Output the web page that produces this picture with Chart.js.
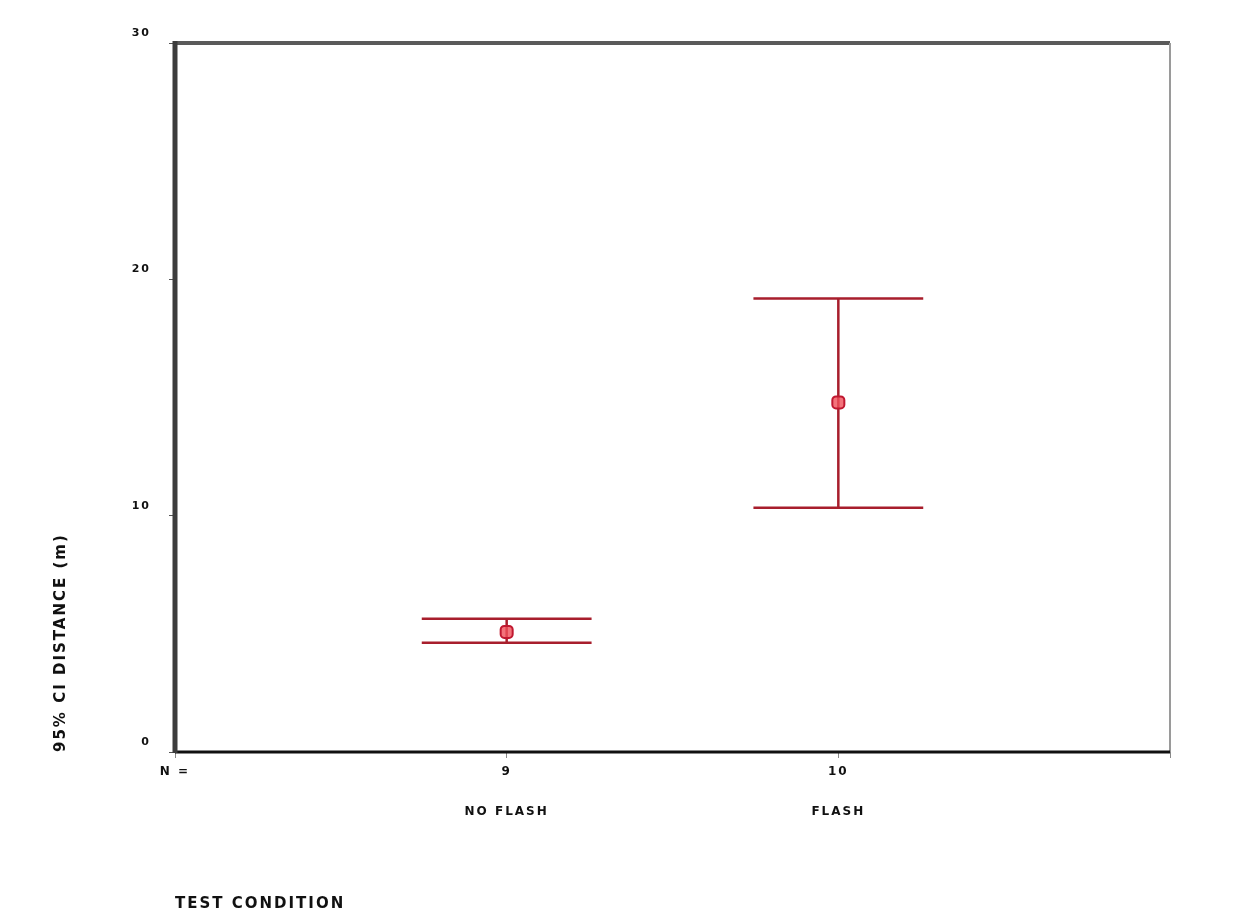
<!DOCTYPE html>
<html>
<head>
<meta charset="utf-8">
<script src="https://cdn.jsdelivr.net/npm/chart.js@4.4.1/dist/chart.umd.min.js"></script>
<style>
  html, body { margin: 0; padding: 0; background: #fff; }
  #wrap { width: 1236px; height: 913px; }
</style>
</head>
<body>
<div id="wrap"><canvas id="myChart" width="1236" height="913"></canvas></div>
<script>
// test conditions and group sizes
var categories = ['NO FLASH', 'FLASH'];
var counts = ['9', '10'];
var positions = [1, 2];

// mean distance and 95% CI bounds (m)
var means = [5.08, 14.79];
var lower = [4.62, 10.34];
var upper = [5.64, 19.19];

var yTicks = [0, 10, 20, 30];

var capHalf = 0.256; // half width of the caps, in x units
var red = '#a81e2c';

var points = [];
for (var i = 0; i < categories.length; i++) {
    points.push({ x: positions[i], y: means[i] });
}

// draws the CI whiskers through the chart scales
var errorBars = {
    id: 'errorBars',
    beforeDatasetsDraw: function (chart) {
        var ctx = chart.ctx;
        var xs = chart.scales.x;
        var ys = chart.scales.y;
        ctx.save();
        ctx.strokeStyle = red;
        ctx.lineWidth = 2.5;
        for (var i = 0; i < categories.length; i++) {
            var xc = xs.getPixelForValue(positions[i]);
            var xl = xs.getPixelForValue(positions[i] - capHalf);
            var xr = xs.getPixelForValue(positions[i] + capHalf);
            var yl = ys.getPixelForValue(lower[i]);
            var yu = ys.getPixelForValue(upper[i]);
            ctx.beginPath();
            ctx.moveTo(xc, yu); ctx.lineTo(xc, yl);
            ctx.moveTo(xl, yu); ctx.lineTo(xr, yu);
            ctx.moveTo(xl, yl); ctx.lineTo(xr, yl);
            ctx.stroke();
        }
        ctx.restore();
    }
};

// plot frame like the original: thick left, grey top, light right
var frame = {
    id: 'frame',
    beforeDraw: function (chart) {
        chart.ctx.letterSpacing = '2px';
    },
    afterDraw: function (chart) {
        var a = chart.chartArea;
        var ctx = chart.ctx;
        ctx.save();
        ctx.lineWidth = 4;
        ctx.strokeStyle = '#5a5a5a';
        ctx.beginPath(); ctx.moveTo(a.left, a.top); ctx.lineTo(a.right, a.top); ctx.stroke();
        ctx.lineWidth = 2;
        ctx.strokeStyle = '#9a9a9a';
        ctx.beginPath(); ctx.moveTo(a.right, a.top); ctx.lineTo(a.right, a.bottom); ctx.stroke();
        ctx.lineWidth = 3;
        ctx.strokeStyle = '#111';
        ctx.beginPath(); ctx.moveTo(a.left, a.bottom); ctx.lineTo(a.right, a.bottom); ctx.stroke();
        ctx.lineWidth = 5;
        ctx.strokeStyle = '#3c3c3c';
        ctx.beginPath(); ctx.moveTo(a.left, a.top - 2); ctx.lineTo(a.left, a.bottom + 1); ctx.stroke();
        ctx.restore();
    }
};

var font = 'DejaVu Sans';

var myChart = new Chart(document.getElementById('myChart'), {
    type: 'scatter',
    data: {
        datasets: [{
            data: points,
            pointStyle: 'rectRounded',
            pointRadius: 7,
            pointBackgroundColor: 'rgba(240,80,90,0.8)',
            pointBorderColor: '#c01830',
            pointBorderWidth: 2
        }]
    },
    plugins: [errorBars, frame],
    options: {
        responsive: false,
        animation: false,
        layout: { padding: { left: 0, right: 66, top: 43, bottom: 0 } },
        plugins: {
            legend: { display: false },
            tooltip: { enabled: false }
        },
        scales: {
            x: {
                type: 'linear',
                min: 0,
                max: 3,
                afterFit: function (scale) { scale.height = 161; },
                afterBuildTicks: function (scale) {
                    scale.ticks = [0, 1, 2, 3].map(function (v) { return { value: v }; });
                },
                grid: {
                    drawOnChartArea: false,
                    drawTicks: true,
                    tickLength: 6,
                    color: '#888'
                },
                border: { display: false },
                ticks: {
                    padding: 4,
                    color: '#111',
                    font: { family: font, size: 12, weight: 'bold', lineHeight: 1.67 },
                    callback: function (value) {
                        if (value === 0) return 'N =';
                        var idx = positions.indexOf(value);
                        if (idx < 0) return '';
                        return [counts[idx], '', categories[idx]];
                    }
                },
                title: {
                    display: true,
                    text: 'TEST CONDITION',
                    align: 'start',
                    color: '#111',
                    font: { family: font, size: 15, weight: 'bold' },
                    padding: { top: 57, bottom: 0 }
                }
            },
            y: {
                type: 'linear',
                min: 0,
                max: 30,
                afterFit: function (scale) { scale.width = 175; },
                afterBuildTicks: function (scale) {
                    scale.ticks = yTicks.map(function (v) { return { value: v }; });
                },
                grid: {
                    drawOnChartArea: false,
                    drawTicks: true,
                    tickLength: 6,
                    color: '#555'
                },
                border: { display: false },
                ticks: {
                    padding: 18,
                    labelOffset: -10,
                    color: '#111',
                    font: { family: font, size: 11, weight: 'bold' }
                },
                title: {
                    display: true,
                    text: '95% CI DISTANCE (m)',
                    align: 'start',
                    color: '#111',
                    font: { family: font, size: 15, weight: 'bold' },
                    padding: { top: 52, bottom: 0 }
                }
            }
        }
    }
});
</script>
</body>
</html>
